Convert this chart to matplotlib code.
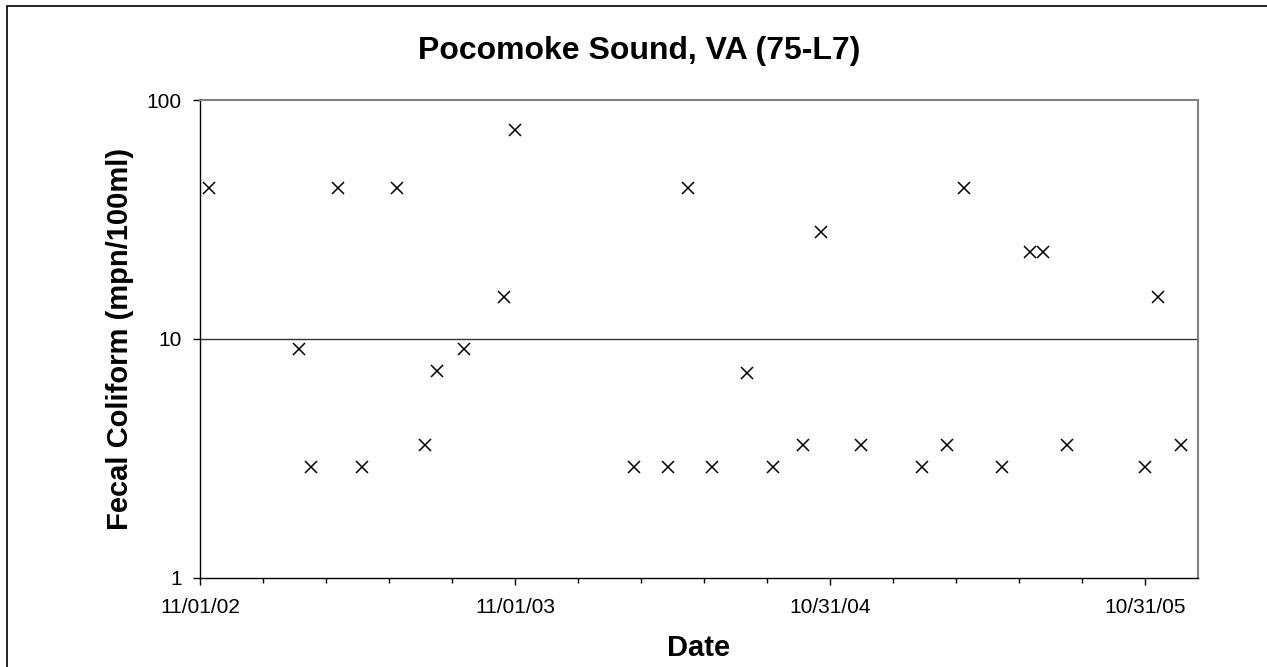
import numpy as np
import pandas as pd
import matplotlib
matplotlib.use("Agg")
import matplotlib.pyplot as plt
import matplotlib.dates as mdates
from matplotlib.patches import Rectangle

plt.rcParams['font.family'] = ['Liberation Sans', 'DejaVu Sans']

# sample dates and fecal coliform values (mpn/100ml)
sample_dates = [
    "2002-11-12", "2003-02-24", "2003-03-10", "2003-04-10", "2003-05-08",
    "2003-06-17", "2003-07-20", "2003-08-03", "2003-09-03", "2003-10-19",
    "2003-11-01", "2004-03-18", "2004-04-26", "2004-05-19", "2004-06-16",
    "2004-07-27", "2004-08-26", "2004-09-30", "2004-10-21", "2004-12-06",
    "2005-02-15", "2005-03-16", "2005-04-04", "2005-05-18", "2005-06-20",
    "2005-07-05", "2005-08-02", "2005-10-31", "2005-11-15", "2005-12-12",
]
fecal_coliform = [
    43, 9.1, 2.9, 43, 2.9,
    43, 3.6, 7.3, 9.1, 15,
    75, 2.9, 2.9, 43, 2.9,
    7.2, 2.9, 3.6, 28, 3.6,
    2.9, 3.6, 43, 2.9, 23,
    23, 3.6, 2.9, 15, 3.6,
]

x_start = "2002-11-01"
x_end = "2005-12-31"
major_step_days = 365
minor_step_days = 73

dates = pd.to_datetime(sample_dates)

fig = plt.figure(figsize=(12.67, 6.67), dpi=100)
ax = fig.add_axes([200 / 1267, 1 - 577.5 / 667, 997.5 / 1267, 477.5 / 667])

ax.plot(dates, fecal_coliform, linestyle="none", marker="x", color="black",
        markersize=9, markeredgewidth=1.1)

ax.set_yscale("log")
ax.set_ylim(1, 100)
ax.set_yticks([1, 10, 100])
ax.set_yticklabels(["1", "10", "100"])
ax.yaxis.set_minor_locator(matplotlib.ticker.NullLocator())
ax.axhline(10, color="#333333", linewidth=1.0, zorder=1)

t0 = mdates.date2num(pd.Timestamp(x_start))
t1 = mdates.date2num(pd.Timestamp(x_end))
ax.set_xlim(t0, t1)
major = np.arange(t0, t1, major_step_days)
minor = [m for m in np.arange(t0, t1, minor_step_days) if m not in major]
ax.set_xticks(major)
ax.set_xticks(minor, minor=True)
ax.xaxis.set_major_formatter(mdates.DateFormatter("%m/%d/%y"))

ax.tick_params(axis="both", which="major", direction="out", length=5, width=1,
               labelsize=15, color="black")
ax.tick_params(axis="x", which="major", length=5, pad=10)
ax.tick_params(axis="x", which="minor", direction="out", length=3.5, width=1)
ax.tick_params(axis="y", which="major", pad=8)

for side in ["left", "bottom"]:
    ax.spines[side].set_color("black")
    ax.spines[side].set_linewidth(1.0)
for side in ["top", "right"]:
    ax.spines[side].set_color("#808080")
    ax.spines[side].set_linewidth(1.5)

fig.text(639 / 1267, 1 - 51 / 667, "Pocomoke Sound, VA (75-L7)", ha="center",
         va="center", fontsize=23, fontweight="bold")
ax.set_xlabel("Date", fontsize=21, fontweight="bold", labelpad=12)
ax.set_ylabel("Fecal Coliform (mpn/100ml)", fontsize=21, fontweight="bold", labelpad=9)

fig.patches.append(Rectangle((7 / 1267, -0.1), 1.2, 1 - 6 / 667 + 0.1,
                             transform=fig.transFigure, fill=False,
                             edgecolor="black", linewidth=1.2))

fig.savefig("out.png", dpi=100)
